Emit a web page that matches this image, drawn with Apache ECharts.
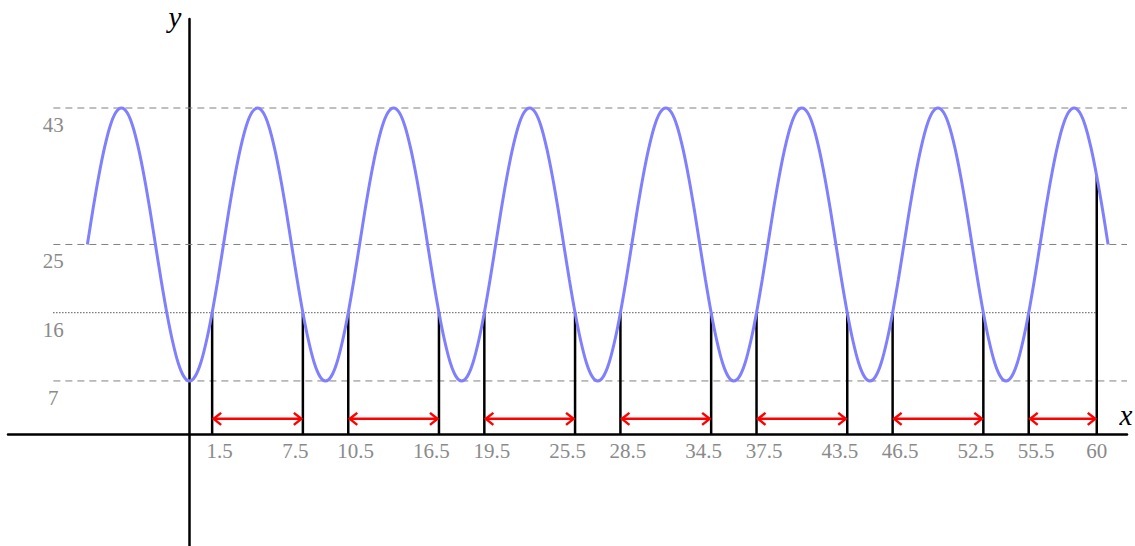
<!DOCTYPE html>
<html><head><meta charset="utf-8">
<script src="https://cdn.jsdelivr.net/npm/echarts@6/dist/echarts.min.js"></script>
<style>html,body{margin:0;padding:0;background:#fff}#c{width:1135px;height:546px}</style>
</head><body><div id="c"></div>
<script>
// ---- data ----
const curveX = [
  -6.75,-6.375,-6,-5.625,-5.25,-4.875,-4.5,-4.125,-3.75,-3.375,-3,-2.625,-2.25,-1.875,-1.5,-1.125,-0.75,-0.375,
  0,0.375,0.75,1.125,1.5,1.875,2.25,2.625,3,3.375,3.75,4.125,4.5,4.875,5.25,5.625,6,6.375,6.75,7.125,7.5,7.875,8.25,8.625,
  9,9.375,9.75,10.125,10.5,10.875,11.25,11.625,12,12.375,12.75,13.125,13.5,13.875,14.25,14.625,15,15.375,15.75,16.125,16.5,16.875,17.25,17.625,
  18,18.375,18.75,19.125,19.5,19.875,20.25,20.625,21,21.375,21.75,22.125,22.5,22.875,23.25,23.625,24,24.375,24.75,25.125,25.5,25.875,26.25,26.625,
  27,27.375,27.75,28.125,28.5,28.875,29.25,29.625,30,30.375,30.75,31.125,31.5,31.875,32.25,32.625,33,33.375,33.75,34.125,34.5,34.875,35.25,35.625,
  36,36.375,36.75,37.125,37.5,37.875,38.25,38.625,39,39.375,39.75,40.125,40.5,40.875,41.25,41.625,42,42.375,42.75,43.125,43.5,43.875,44.25,44.625,
  45,45.375,45.75,46.125,46.5,46.875,47.25,47.625,48,48.375,48.75,49.125,49.5,49.875,50.25,50.625,51,51.375,51.75,52.125,52.5,52.875,53.25,53.625,
  54,54.375,54.75,55.125,55.5,55.875,56.25,56.625,57,57.375,57.75,58.125,58.5,58.875,59.25,59.625,60,60.375,60.75];
const curveY = [
  25,29.7,34,37.7,40.6,42.4,43,42.4,40.6,37.7,34,29.7,25,20.3,16,12.3,9.4,7.6,
  7,7.6,9.4,12.3,16,20.3,25,29.7,34,37.7,40.6,42.4,43,42.4,40.6,37.7,34,29.7,25,20.3,16,12.3,9.4,7.6,
  7,7.6,9.4,12.3,16,20.3,25,29.7,34,37.7,40.6,42.4,43,42.4,40.6,37.7,34,29.7,25,20.3,16,12.3,9.4,7.6,
  7,7.6,9.4,12.3,16,20.3,25,29.7,34,37.7,40.6,42.4,43,42.4,40.6,37.7,34,29.7,25,20.3,16,12.3,9.4,7.6,
  7,7.6,9.4,12.3,16,20.3,25,29.7,34,37.7,40.6,42.4,43,42.4,40.6,37.7,34,29.7,25,20.3,16,12.3,9.4,7.6,
  7,7.6,9.4,12.3,16,20.3,25,29.7,34,37.7,40.6,42.4,43,42.4,40.6,37.7,34,29.7,25,20.3,16,12.3,9.4,7.6,
  7,7.6,9.4,12.3,16,20.3,25,29.7,34,37.7,40.6,42.4,43,42.4,40.6,37.7,34,29.7,25,20.3,16,12.3,9.4,7.6,
  7,7.6,9.4,12.3,16,20.3,25,29.7,34,37.7,40.6,42.4,43,42.4,40.6,37.7,34,29.7,25];
const dashedLevels = [7, 25, 43];
const dottedLevel = 16;
const yTickValues = [7, 16, 25, 43];
const yTickLabels = ['7', '16', '25', '43'];
const stemX = [1.5, 7.5, 10.5, 16.5, 19.5, 25.5, 28.5, 34.5, 37.5, 43.5, 46.5, 52.5, 55.5, 60];
const stemTop = [16, 16, 16, 16, 16, 16, 16, 16, 16, 16, 16, 16, 16, 34];
const arrowStart = [1.5, 10.5, 19.5, 28.5, 37.5, 46.5, 55.5];
const arrowEnd = [7.5, 16.5, 25.5, 34.5, 43.5, 52.5, 60];
const arrowLevel = 2;
const xTickValues = [1.5, 7.5, 10.5, 16.5, 19.5, 25.5, 28.5, 34.5, 37.5, 43.5, 46.5, 52.5, 55.5, 60];
const xTickLabels = ['1.5', '7.5', '10.5', '16.5', '19.5', '25.5', '28.5', '34.5', '37.5', '43.5', '46.5', '52.5', '55.5', '60'];

// ---- chart ----
const chart = echarts.init(document.getElementById('c'), null, {renderer: 'svg'});
const labelFont = '21px "Liberation Serif", serif';
const labelColor = '#8a8a8a';
const refLeft = -9, refRight = 62;

const refRows = dashedLevels.map(v => [refLeft, refRight, v, 0]).concat([[refLeft, 60, dottedLevel, 1]]);

const option = {
  animation: false,
  backgroundColor: '#fff',
  grid: {left: 8, right: 8, top: 19, bottom: 0, containLabel: false},
  xAxis: {
    type: 'value', min: -12, max: 62,
    axisLine: {show: true, onZero: true, lineStyle: {color: '#000', width: 2.5}},
    axisTick: {show: false}, axisLabel: {show: false}, splitLine: {show: false}
  },
  yAxis: {
    type: 'value', min: -14.77, max: 54.74,
    axisLine: {show: true, onZero: true, lineStyle: {color: '#000', width: 2.5}},
    axisTick: {show: false}, axisLabel: {show: false}, splitLine: {show: false}
  },
  graphic: [
    {type: 'text', x: 175, y: 17, style: {text: 'y', font: 'italic 29px "Liberation Serif", serif', fill: '#000', align: 'center', verticalAlign: 'middle'}},
    {type: 'text', x: 1126, y: 415, style: {text: 'x', font: 'italic 29px "Liberation Serif", serif', fill: '#000', align: 'center', verticalAlign: 'middle'}}
  ],
  series: [
    {
      type: 'custom', z: 1, silent: true,
      data: refRows,
      renderItem: (params, api) => {
        const p1 = api.coord([api.value(0), api.value(2)]);
        const p2 = api.coord([api.value(1), api.value(2)]);
        const dotted = api.value(3) === 1;
        return {
          type: 'line',
          shape: {x1: p1[0], y1: p1[1], x2: p2[0], y2: p2[1]},
          style: dotted ? {stroke: '#000', lineWidth: 1, lineDash: [1, 2]}
                        : {stroke: '#808080', lineWidth: 1, lineDash: [7, 5]}
        };
      }
    },
    {
      type: 'custom', z: 3, silent: true,
      data: stemX.map((x, i) => [x, stemTop[i]]),
      renderItem: (params, api) => {
        const p1 = api.coord([api.value(0), 0]);
        const p2 = api.coord([api.value(0), api.value(1)]);
        return {type: 'line', shape: {x1: p1[0], y1: p1[1], x2: p2[0], y2: p2[1]},
          style: {stroke: '#000', lineWidth: 2.5}};
      }
    },
    {
      type: 'line', z: 4, silent: true,
      data: curveX.map((x, i) => [x, curveY[i]]),
      smooth: 0.3, showSymbol: false, symbol: 'none',
      lineStyle: {color: '#8080ff', width: 3}
    },
    {
      type: 'custom', z: 5, silent: true,
      data: arrowStart.map((s, i) => [s, arrowEnd[i], arrowLevel]),
      renderItem: (params, api) => {
        const a = api.coord([api.value(0), api.value(2)]);
        const b = api.coord([api.value(1), api.value(2)]);
        const st = {stroke: '#ff0000', lineWidth: 2.5, fill: 'none'};
        const hx = 8, hy = 6;
        return {type: 'group', children: [
          {type: 'line', shape: {x1: a[0] + 1, y1: a[1], x2: b[0] - 1, y2: b[1]}, style: st},
          {type: 'polyline', shape: {points: [[a[0] + hx + 1, a[1] - hy], [a[0] + 1.5, a[1]], [a[0] + hx + 1, a[1] + hy]]}, style: st},
          {type: 'polyline', shape: {points: [[b[0] - hx - 1, b[1] - hy], [b[0] - 1.5, b[1]], [b[0] - hx - 1, b[1] + hy]]}, style: st}
        ]};
      }
    },
    {
      type: 'custom', z: 6, silent: true,
      data: xTickValues.map(v => [v, 0]),
      renderItem: (params, api) => {
        const i = params.dataIndex;
        const p = api.coord([api.value(0), 0]);
        let shift = (i % 2 === 0) ? 7.5 : -7.5;
        if (i === xTickValues.length - 1) shift = 0;
        return {type: 'text', x: p[0] + shift, y: p[1] + 17,
          style: {text: xTickLabels[i], font: labelFont, fill: labelColor, align: 'center', verticalAlign: 'middle'}};
      }
    },
    {
      type: 'custom', z: 6, silent: true,
      data: yTickValues.map(v => [refLeft, v]),
      renderItem: (params, api) => {
        const i = params.dataIndex;
        const p = api.coord([api.value(0), api.value(1)]);
        return {type: 'text', x: p[0], y: p[1] + 17,
          style: {text: yTickLabels[i], font: labelFont, fill: labelColor, align: 'center', verticalAlign: 'middle'}};
      }
    }
  ]
};
chart.setOption(option);
</script>
</body></html>
